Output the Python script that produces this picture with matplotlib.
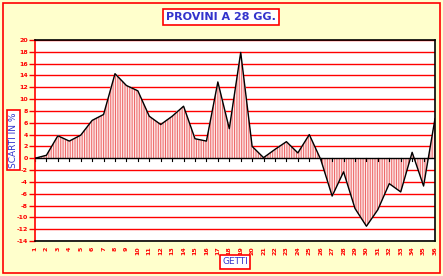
import numpy as np
import matplotlib
matplotlib.use("Agg")
import matplotlib.pyplot as plt
from matplotlib.patches import Rectangle

# Data
getti = list(range(1, 37))
scarti = [0.0, 0.5, 3.8, 2.9, 3.9, 6.4, 7.4, 14.3, 12.3, 11.4, 7.1, 5.7,
          7.1, 8.8, 3.3, 2.9, 12.9, 5.0, 17.9, 2.0, 0.1, 1.5, 2.8, 0.9,
          4.0, -0.2, -6.4, -2.3, -8.5, -11.5, -8.7, -4.3, -5.7, 1.0, -4.7, 6.7]
y_ticks = list(range(-14, 21, 2))

W, H = 443, 276
fig = plt.figure(figsize=(W / 100, H / 100), dpi=100)
fig.patch.set_facecolor('#ffffcc')

# outer red frame
fig.patches.append(Rectangle((3 / W, 3 / H), 437 / W, 270 / H, transform=fig.transFigure,
                             fill=False, edgecolor='red', linewidth=1.2))

ax = fig.add_axes([35 / W, (H - 241) / H, 400 / W, 201 / H])
ax.set_facecolor('white')

x = np.array(getti)
y = np.array(scarti)

# vertical striped fill between series and zero
plt.rcParams['hatch.color'] = '#ee6a6a'
plt.rcParams['hatch.linewidth'] = 0.75
ax.fill_between(x, y, 0, facecolor='#fde8e8', hatch='|' * 7, linewidth=0, zorder=1,
                antialiased=False)
ax.plot(x, y, color='black', linewidth=1.0, zorder=3)

# grid lines in red
for t in y_ticks:
    if t != 0:
        ax.axhline(t, color='red', linewidth=1.0, zorder=0.5)
ax.axhline(0, color='black', linewidth=1.0, zorder=2)

# category tick marks on zero line
for xi in x:
    ax.plot([xi, xi], [0, -0.45], color='black', linewidth=0.8, zorder=2)

ax.set_xlim(1, 36)
ax.set_ylim(-14, 20)
ax.set_yticks(y_ticks)
ax.set_yticklabels([str(t) for t in y_ticks], color='red', fontsize=4.5, fontweight='bold')
ax.tick_params(axis='y', colors='red', length=4, width=1, pad=1)
ax.tick_params(axis='y', labelcolor='red')
ax.set_xticks(getti)
ax.set_xticklabels([str(g) for g in getti], rotation=90, color='red', fontsize=4.5,
                   fontweight='bold')
ax.tick_params(axis='x', length=0, pad=4)

for s in ['top', 'right', 'bottom']:
    ax.spines[s].set_color('black')
    ax.spines[s].set_linewidth(1.2)
ax.spines['left'].set_color('red')
ax.spines['left'].set_linewidth(1.2)

box = dict(boxstyle='square,pad=0.25', facecolor='white', edgecolor='red', linewidth=1.2)
fig.text(221 / W, 1 - 17 / H, 'PROVINI A 28 GG.', ha='center', va='center',
         color='#3333cc', fontsize=8, fontweight='bold', bbox=box)
fig.text(13.5 / W, 1 - 140 / H, 'SCARTI IN %', ha='center', va='center', rotation=90,
         color='#3333cc', fontsize=6.5, bbox=box)
fig.text(235 / W, 1 - 262 / H, 'GETTI', ha='center', va='center',
         color='#3333cc', fontsize=6.5, bbox=box)

fig.savefig('out.png', dpi=100, facecolor=fig.get_facecolor())
